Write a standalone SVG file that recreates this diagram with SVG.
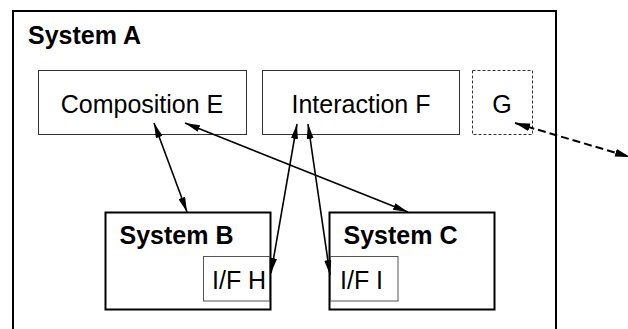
<svg xmlns="http://www.w3.org/2000/svg" width="628" height="329" viewBox="0 0 628 329">
  <style>
    text { font-family: "Liberation Sans", Arial, sans-serif; font-size: 25px; fill: #000; }
    .bold { font-weight: bold; }
    .mid { text-anchor: middle; }
    .sys { fill: #fff; stroke: #000; stroke-width: 2; }
    .box { fill: #fff; stroke: #333; stroke-width: 1; }
    .ifb { fill: #fff; stroke: #555; stroke-width: 1; }
    .dash { fill: #fff; stroke: #333; stroke-width: 1; stroke-dasharray: 3 2; }
    .conn { fill: none; stroke: #000; stroke-width: 1.6; marker-start: url(#ah); marker-end: url(#ah); }
    .dconn { fill: none; stroke: #000; stroke-width: 2; stroke-dasharray: 8 4; marker-start: url(#ah2); marker-end: url(#ah2); }
  </style>
  <defs>
    <marker id="ah" viewBox="0 0 15 7" refX="15" refY="3.5" markerWidth="15" markerHeight="7" markerUnits="userSpaceOnUse" orient="auto-start-reverse">
      <path d="M0,0 L15,3.5 L0,7 z" fill="#000"/>
    </marker>
    <marker id="ah2" viewBox="0 0 15 8" refX="15" refY="4" markerWidth="15" markerHeight="8" markerUnits="userSpaceOnUse" orient="auto-start-reverse">
      <path d="M0,0 L15,4 L0,8 z" fill="#000"/>
    </marker>
  </defs>

  <g id="systemA">
    <rect class="sys" x="13" y="11" width="543" height="340"/>
    <text class="bold" x="28" y="44">System A</text>
  </g>

  <g id="compositionE">
    <rect class="box" x="38.5" y="70.5" width="208" height="64"/>
    <text class="mid" x="142" y="113">Composition E</text>
  </g>

  <g id="interactionF">
    <rect class="box" x="262.5" y="70.5" width="197" height="64"/>
    <text class="mid" x="361" y="113">Interaction F</text>
  </g>

  <g id="G">
    <rect class="dash" x="472.5" y="70.5" width="60" height="64"/>
    <text class="mid" x="502" y="113">G</text>
  </g>

  <g id="systemB">
    <rect class="sys" x="105.5" y="212.5" width="165" height="97"/>
    <text class="bold" x="119.5" y="244">System B</text>
  </g>

  <g id="ifH">
    <rect class="ifb" x="203.5" y="256.5" width="66" height="44.5"/>
    <text x="212" y="289">I/F H</text>
  </g>

  <g id="systemC">
    <rect class="sys" x="329.5" y="212.5" width="165" height="97"/>
    <text class="bold" x="343.5" y="244">System C</text>
  </g>

  <g id="ifI">
    <rect class="ifb" x="330.5" y="256.5" width="67.5" height="44.5"/>
    <text x="340" y="289">I/F I</text>
  </g>

  <g id="connectors">
    <line class="conn" x1="154" y1="123" x2="187" y2="212"/>
    <line class="conn" x1="185" y1="123" x2="408" y2="212"/>
    <line class="conn" x1="297" y1="124" x2="271" y2="273"/>
    <line class="conn" x1="308" y1="124" x2="330" y2="275"/>
    <line class="dconn" x1="515" y1="123" x2="630" y2="157"/>
  </g>
</svg>
